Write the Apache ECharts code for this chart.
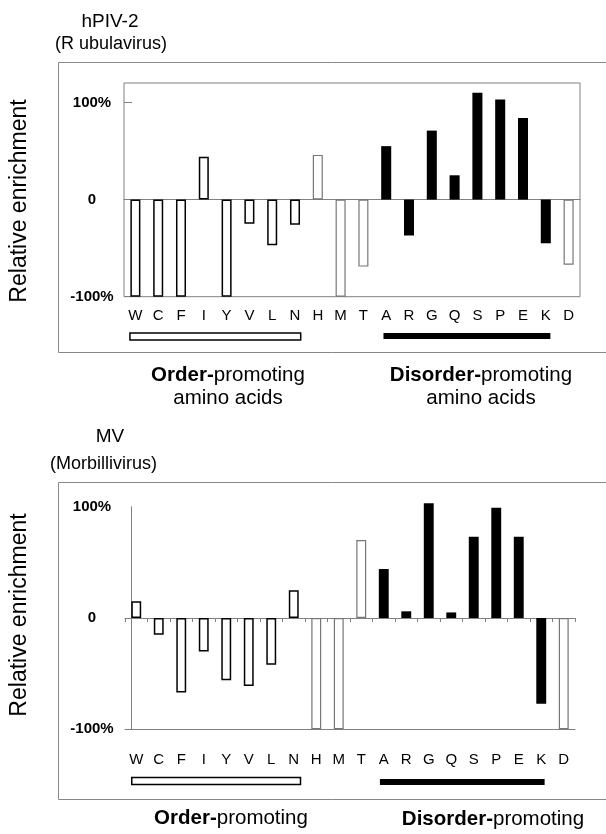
<!DOCTYPE html>
<html>
<head>
<meta charset="utf-8">
<script src="https://cdn.jsdelivr.net/npm/echarts@6/dist/echarts.min.js"></script>
<style>
html, body { margin: 0; padding: 0; background: #fff; }
#chart { width: 606px; height: 834px; }
</style>
</head>
<body>
<div id="chart"></div>
<script>
// amino acids along the x axis
var aminoAcids = ['W', 'C', 'F', 'I', 'Y', 'V', 'L', 'N', 'H', 'M', 'T', 'A', 'R', 'G', 'Q', 'S', 'P', 'E', 'K', 'D'];
// o = order-promoting, n = neutral, d = disorder-promoting
var aaGroup = ['o', 'o', 'o', 'o', 'o', 'o', 'o', 'o', 'n', 'n', 'n', 'd', 'd', 'd', 'd', 'd', 'd', 'd', 'd', 'n'];
// relative enrichment (%)
var hpiv2Values = [-100, -100, -100, 44, -100, -25, -47, -26, 46, -100, -69, 55, -37, 71, 25, 110, 103, 84, -45, -67];
var mvValues = [15, -15, -67, -30, -56, -61, -42, 25, -100, -100, 70, 44, 6, 103, 5, 73, 99, 73, -77, -100];

var font = '"Liberation Sans", Arial, sans-serif';
var narrow = '"Liberation Sans Narrow", "Liberation Sans", Arial, sans-serif';
var grey = '#808080';

function barItem(v, i) {
  var g = aaGroup[i];
  var st;
  if (g === 'd') st = { color: '#000', borderColor: '#000', borderWidth: 0 };
  else if (g === 'o') st = { color: '#fff', borderColor: '#000', borderWidth: 1.5 };
  else st = { color: '#fff', borderColor: '#777', borderWidth: 1.2 };
  return { value: v, itemStyle: st };
}

function pct(v) { return v === 0 ? '0' : v + '%'; }

var chart = echarts.init(document.getElementById('chart'));

chart.setOption({
  animation: false,
  grid: [
    { left: 124, top: 83, width: 456, height: 213.7, show: true, borderColor: grey, borderWidth: 1 },
    { left: 125, top: 506.7, width: 450, height: 222.6 }
  ],
  xAxis: [
    // labels under the box
    {
      gridIndex: 0, type: 'category', data: aminoAcids, position: 'bottom',
      axisLine: { show: false, onZero: false },
      axisTick: { show: false },
      axisLabel: { margin: 12, fontFamily: narrow, fontSize: 15, color: '#000' }
    },
    // zero line
    {
      gridIndex: 0, type: 'category', data: aminoAcids, position: 'bottom',
      axisLine: { show: true, onZero: true, lineStyle: { color: grey, width: 1 } },
      axisTick: { show: false },
      axisLabel: { show: false }
    },
    {
      gridIndex: 1, type: 'category', data: aminoAcids, position: 'bottom',
      axisLine: { show: true, onZero: false, lineStyle: { color: grey, width: 1 } },
      axisTick: { show: false },
      axisLabel: { margin: 23, fontFamily: narrow, fontSize: 15, color: '#000' }
    },
    {
      gridIndex: 1, type: 'category', data: aminoAcids, position: 'bottom',
      axisLine: { show: true, onZero: true, lineStyle: { color: grey, width: 1 } },
      axisTick: { show: true, length: 4, lineStyle: { color: grey } },
      axisLabel: { show: false }
    }
  ],
  yAxis: [
    {
      gridIndex: 0, type: 'value', min: -100, max: 120, interval: 100,
      axisLine: { show: false },
      axisTick: { show: true, inside: true, length: 8, lineStyle: { color: grey } },
      splitLine: { show: false },
      axisLabel: {
        formatter: pct, showMaxLabel: false, align: 'center', margin: 32,
        fontFamily: font, fontSize: 15, fontWeight: 'bold', color: '#000'
      }
    },
    {
      gridIndex: 1, type: 'value', min: -100, max: 100, interval: 100, offset: -6,
      axisLine: { show: true, lineStyle: { color: grey, width: 1 } },
      axisTick: { show: false },
      splitLine: { show: false },
      axisLabel: {
        formatter: pct, align: 'center', margin: 39,
        fontFamily: font, fontSize: 15, fontWeight: 'bold', color: '#000'
      }
    }
  ],
  series: [
    {
      name: 'hPIV-2', type: 'bar', xAxisIndex: 0, yAxisIndex: 0,
      data: hpiv2Values.map(barItem), barWidth: '44%', clip: false, silent: true
    },
    {
      name: 'MV', type: 'bar', xAxisIndex: 2, yAxisIndex: 1,
      data: mvValues.map(barItem), barWidth: '44%', clip: false, silent: true
    }
  ]
});

// group bars under the letters, placed from the category axis
function groupBar(xAxisIndex, from, to, padL, padR, y, h, filled) {
  var band = chart.convertToPixel({ xAxisIndex: xAxisIndex }, 1) - chart.convertToPixel({ xAxisIndex: xAxisIndex }, 0);
  var x0 = chart.convertToPixel({ xAxisIndex: xAxisIndex }, from) - padL * band;
  var x1 = chart.convertToPixel({ xAxisIndex: xAxisIndex }, to) + padR * band;
  return {
    type: 'rect', silent: true,
    shape: { x: x0, y: y, width: x1 - x0, height: h },
    style: filled ? { fill: '#000' } : { fill: '#fff', stroke: '#000', lineWidth: 1.5 }
  };
}

function groupText(x, y, bold, rest, second) {
  var els = [{
    type: 'text', x: x, y: y, silent: true,
    style: {
      text: '{b|' + bold + '}{r|' + rest + '}', align: 'center', verticalAlign: 'middle',
      rich: {
        b: { fontFamily: font, fontSize: 20.5, fontWeight: 'bold', fill: '#000' },
        r: { fontFamily: font, fontSize: 20.5, fill: '#000' }
      }
    }
  }];
  if (second) {
    els.push({
      type: 'text', x: x, y: y + 23, silent: true,
      style: { text: second, align: 'center', verticalAlign: 'middle', fontFamily: font, fontSize: 20.5, fill: '#000' }
    });
  }
  return els;
}

function plainText(x, y, text, size, align, rot) {
  return {
    type: 'text', x: x, y: y, rotation: rot || 0, silent: true,
    style: { text: text, align: align, verticalAlign: 'middle', fontFamily: font, fontSize: size, fill: '#000' }
  };
}

var graphics = [
  { type: 'rect', silent: true, shape: { x: 58.5, y: 62.5, width: 570, height: 290 }, style: { fill: 'none', stroke: '#888', lineWidth: 1 } },
  { type: 'rect', silent: true, shape: { x: 58.5, y: 482.5, width: 570, height: 317 }, style: { fill: 'none', stroke: '#888', lineWidth: 1 } },
  plainText(110, 22, 'hPIV-2', 19, 'center'),
  plainText(55, 44, '(R ubulavirus)', 18, 'left'),
  plainText(110, 437, 'MV', 19, 'center'),
  plainText(50, 464, '(Morbillivirus)', 18, 'left'),
  plainText(20, 201, 'Relative enrichment', 23, 'center', Math.PI / 2),
  plainText(20, 615, 'Relative enrichment', 23, 'center', Math.PI / 2),
  groupBar(0, 0, 7, 0.24, 0.25, 333, 7, false),
  groupBar(0, 11, 18, 0.12, 0.2, 333, 6, true),
  groupBar(2, 0, 7, 0.2, 0.3, 777.5, 7, false),
  groupBar(2, 11, 18, 0.17, 0.15, 779, 6, true)
].concat(
  groupText(228, 375, 'Order-', 'promoting', 'amino acids'),
  groupText(481, 375, 'Disorder-', 'promoting', 'amino acids'),
  groupText(231, 818, 'Order-', 'promoting'),
  groupText(493, 819, 'Disorder-', 'promoting')
);

chart.setOption({ graphic: graphics });
</script>
</body>
</html>
